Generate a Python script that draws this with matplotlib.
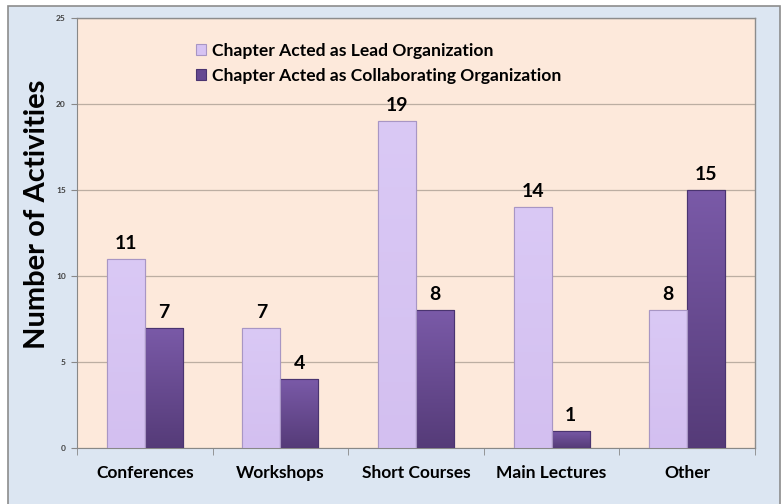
import matplotlib
matplotlib.use("Agg")
import matplotlib.pyplot as plt
import numpy as np
from matplotlib.patches import Rectangle
from matplotlib.colors import LinearSegmentedColormap

categories = ["Conferences", "Workshops", "Short Courses", "Main Lectures", "Other"]
lead = [11, 7, 19, 14, 8]
collab = [7, 4, 8, 1, 15]
series_names = ["Chapter Acted as Lead Organization",
                "Chapter Acted as Collaborating Organization"]
yticks = [0, 5, 10, 15, 20, 25]

plt.rcParams['font.family'] = ['Lato', 'DejaVu Sans']
plt.rcParams['font.weight'] = 'bold'

fig = plt.figure(figsize=(7.82, 5.04), dpi=100)
fig.patch.set_facecolor('white')
frame = Rectangle((8/782, -0.05), (780-8)/782, 1-6/504+0.05, transform=fig.transFigure,
                  facecolor='#dce6f2', edgecolor='#8c8c8c', linewidth=1.2, zorder=-10)
fig.patches.append(frame)

ax = fig.add_axes([77/782, 1-448/504, (755-77)/782, (448-18)/504])
ax.set_zorder(1)
ax.set_facecolor('#fde9db')

x = np.arange(len(categories))
w = 0.28
b1 = ax.bar(x - w/2, lead, w, color='#d6c3f3', edgecolor='#a896c4', linewidth=0.8, zorder=3,
            label=series_names[0])
b2 = ax.bar(x + w/2, collab, w, color='#654891', edgecolor='#4a3470', linewidth=0.8, zorder=3,
            label=series_names[1])

# gradient fill clipped to each bar
cmap_dark = LinearSegmentedColormap.from_list('dk', ['#553b78', '#7a5aa8'])
cmap_light = LinearSegmentedColormap.from_list('lt', ['#d3bff0', '#dac9f5'])
grad = np.linspace(0, 1, 256).reshape(-1, 1)
for bars, cm in ((b2, cmap_dark), (b1, cmap_light)):
    for r in bars:
        x0, y0, bw, bh = r.get_x(), r.get_y(), r.get_width(), r.get_height()
        im = ax.imshow(grad, cmap=cm, aspect='auto', origin='lower',
                       extent=[x0, x0 + bw, y0, y0 + bh], zorder=3.5, interpolation='bicubic')
        im.set_clip_path(r)
    for r in bars:
        ax.add_patch(Rectangle((r.get_x(), r.get_y()), r.get_width(), r.get_height(),
                               fill=False, edgecolor=r.get_edgecolor(), linewidth=0.8, zorder=3.6))

for bars, vals in ((b1, lead), (b2, collab)):
    for r, v in zip(bars, vals):
        ax.annotate(str(v), (r.get_x() + r.get_width()/2, v), xytext=(0, 7.2),
                    textcoords='offset points', ha='center', va='baseline',
                    fontsize=14, fontweight='bold', color='black')

ax.set_xlim(-0.5, len(categories) - 0.5)
ax.set_ylim(0, 25)
ax.set_yticks(yticks)
ax.set_yticklabels([str(t) for t in yticks], fontsize=6, fontweight='bold', color='#404040')
ax.yaxis.grid(True, color='#bcaea2', linewidth=0.9, zorder=1)
ax.set_axisbelow(True)

ax.set_xticks(x)
ax.set_xticklabels(categories, fontsize=12.5, fontweight='bold')
ax.tick_params(axis='x', length=0, pad=12)
ax.set_xticks(np.arange(-0.5, len(categories) + 0.5, 1), minor=True)
ax.tick_params(axis='x', which='minor', length=5, color='#888888', direction='out')
ax.tick_params(axis='y', length=4, color='#888888', direction='out', pad=4)

for s in ['left', 'bottom']:
    ax.spines[s].set_color('#888888')
for s in ['top', 'right']:
    ax.spines[s].set_visible(False)
ax.plot([1, 1], [0, 1], transform=ax.transAxes, color='#8c8c8c', linewidth=1.0, clip_on=False)
ax.plot([0, 1], [1, 1], transform=ax.transAxes, color='#8c8c8c', linewidth=1.0, clip_on=False)

ax.set_ylabel('Number of Activities', fontsize=21, fontweight='bold')
ax.yaxis.set_label_coords((50 - 77) / 678, (448 - 214) / 430)

leg = ax.legend(handles=[b1, b2], loc='upper left', bbox_to_anchor=(0.165, 0.958), frameon=False,
                fontsize=12.6, handlelength=0.6, handleheight=0.6, handletextpad=0.3,
                labelspacing=0.5, borderaxespad=0)

fig.savefig('out.png', dpi=100)
